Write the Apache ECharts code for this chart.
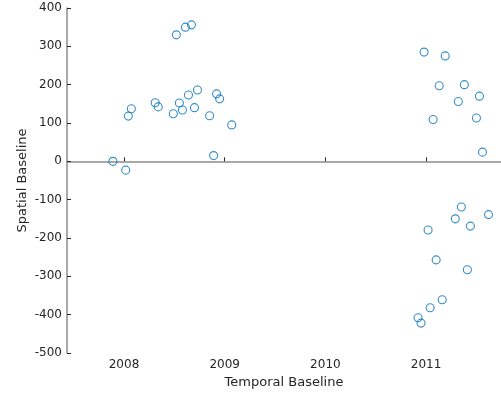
<!DOCTYPE html>
<html>
<head>
<meta charset="utf-8">
<script src="https://cdn.jsdelivr.net/npm/echarts@6/dist/echarts.min.js"></script>
<style>html,body{margin:0;padding:0;background:#fff}#c{width:501px;height:395px}</style>
</head>
<body>
<div id="c"></div>
<script>
var temporal = [2007.89, 2008.017, 2008.043, 2008.073, 2008.31, 2008.34, 2008.49, 2008.55, 2008.58, 2008.52,
  2008.61, 2008.67, 2008.64, 2008.73, 2008.70, 2008.85, 2008.92, 2008.95, 2008.89, 2009.07,
  2010.98, 2011.19, 2011.13, 2011.38, 2011.32, 2011.53, 2011.07, 2011.50, 2011.56,
  2011.35, 2011.29, 2011.44, 2011.62, 2011.02, 2011.10, 2011.41, 2011.16, 2011.04, 2010.92, 2010.95];
var spatial = [0, -23, 118, 137, 153, 142, 124, 152, 134, 330,
  350, 356, 173, 186, 140, 119, 176, 163, 15, 95,
  285, 275, 197, 200, 156, 170, 109, 113, 24,
  -119, -150, -169, -139, -179, -257, -283, -361, -382, -408, -422];
var xRange = [2007.434, 2011.744];
var yRange = [-500, 400];
var xTitle = 'Temporal Baseline';
var yTitle = 'Spatial Baseline';

var pts = temporal.map(function (t, i) { return [t, spatial[i]]; });
var font = 'DejaVu Sans';
var axisCol = '#8c8c8c';
var txtCol = '#262626';
var chart = echarts.init(document.getElementById('c'), null, {renderer: 'canvas'});
chart.setOption({
  animation: false,
  backgroundColor: '#fff',
  grid: {left: 67, right: 0, top: 8, bottom: 42},
  xAxis: {
    type: 'value', min: xRange[0], max: xRange[1], splitNumber: 4,
    name: xTitle, nameLocation: 'middle', nameGap: 23, nameMoveOverlap: false,
    nameTextStyle: {fontFamily: font, fontSize: 13, color: txtCol},
    axisLine: {show: true, lineStyle: {color: axisCol, width: 1.5}},
    axisTick: {show: true, inside: true, length: 4, lineStyle: {color: txtCol}},
    axisLabel: {fontFamily: font, fontSize: 12, color: txtCol, margin: 6,
      showMinLabel: false, showMaxLabel: false,
      formatter: function (v) { return Math.abs(v - Math.round(v)) < 1e-6 ? String(Math.round(v)) : ''; }},
    splitLine: {show: false}
  },
  yAxis: {
    type: 'value', min: yRange[0], max: yRange[1], interval: 100,
    name: yTitle, nameLocation: 'middle', nameGap: 38, nameMoveOverlap: false,
    nameTextStyle: {fontFamily: font, fontSize: 13, color: txtCol},
    axisLine: {show: true, lineStyle: {color: axisCol, width: 1.5}},
    axisTick: {show: true, inside: true, length: 4, lineStyle: {color: txtCol}},
    axisLabel: {fontFamily: font, fontSize: 12, color: txtCol, margin: 5},
    splitLine: {show: false}
  },
  series: [{
    type: 'scatter', data: pts, symbol: 'circle', symbolSize: 8,
    itemStyle: {color: 'rgba(255,255,255,0)', borderColor: '#0072BD', borderWidth: 1.1}
  }]
});
</script>
</body>
</html>
